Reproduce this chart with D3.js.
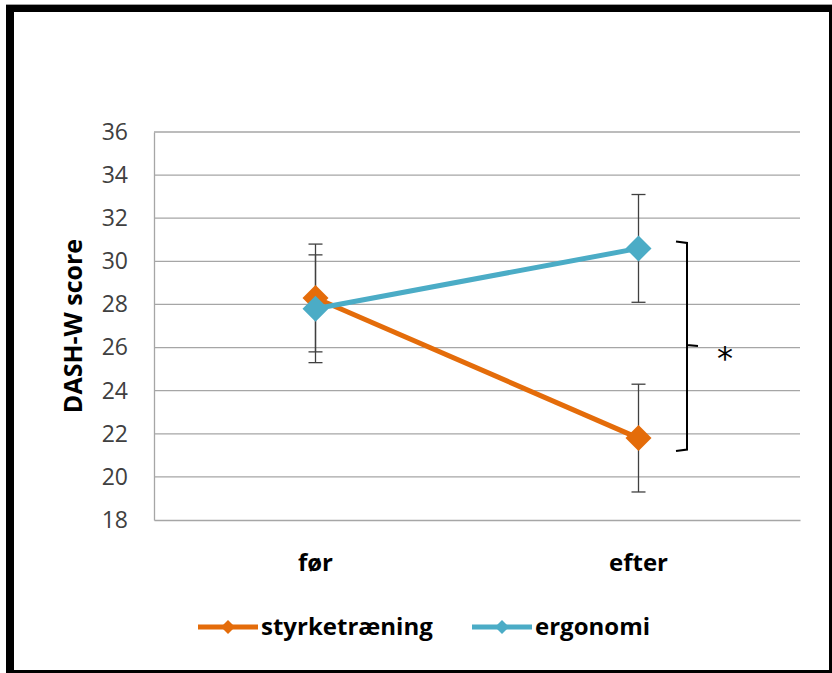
<!DOCTYPE html>
<html>
<head>
<meta charset="utf-8">
<script src="https://cdn.jsdelivr.net/npm/d3@7"></script>
<style>
  html, body { margin: 0; padding: 0; background: #fff; }
  svg { display: block; }
</style>
</head>
<body>
<svg id="chart" width="832" height="673"></svg>
<script>
// Time points and group labels
const categories = ["før", "efter"];
const seriesNames = ["styrketræning", "ergonomi"];
// Mean DASH-W score per time point
const styrketraening = [28.3, 21.8];
const ergonomi = [27.8, 30.6];
// Error bar half-widths (±)
const styrketraeningErr = [2.5, 2.5];
const ergonomiErr = [2.5, 2.5];
// Y axis ticks
const yTicks = [18, 20, 22, 24, 26, 28, 30, 32, 34, 36];

const colors = { "styrketræning": "#E46C0A", "ergonomi": "#4BACC6" };
const font = "'Open Sans', sans-serif";

const series = [
  { name: seriesNames[0], values: styrketraening, err: styrketraeningErr },
  { name: seriesNames[1], values: ergonomi, err: ergonomiErr }
];

const svg = d3.select("#chart");

// Outer frame
svg.append("line").attr("x1", 6).attr("x2", 832).attr("y1", 4.5).attr("y2", 4.5)
  .attr("stroke", "#a0a0a0").attr("stroke-width", 1);
svg.append("rect").attr("x", 6).attr("y", 5).attr("width", 826).attr("height", 7).attr("fill", "#000");
svg.append("rect").attr("x", 6).attr("y", 5).attr("width", 8).attr("height", 668).attr("fill", "#000");
svg.append("rect").attr("x", 829).attr("y", 5).attr("width", 3).attr("height", 668).attr("fill", "#000");
svg.append("rect").attr("x", 6).attr("y", 670).attr("width", 826).attr("height", 3).attr("fill", "#000");

const plot = { left: 154, right: 800, top: 132, bottom: 520 };

const x = d3.scaleBand().domain(categories).range([plot.left, plot.right]);
const y = d3.scaleLinear().domain([18, 36]).range([plot.bottom, plot.top]);
const cx = c => x(c) + x.bandwidth() / 2;

// Gridlines
svg.append("g").selectAll("line").data(yTicks.filter(t => t > 18)).join("line")
  .attr("x1", plot.left).attr("x2", plot.right)
  .attr("y1", d => y(d)).attr("y2", d => y(d))
  .attr("stroke", "#a6a6a6").attr("stroke-width", 1.3);

// Y axis
const yAxis = d3.axisLeft(y).tickValues(yTicks).tickSize(0).tickPadding(26);
const yg = svg.append("g").attr("transform", `translate(${plot.left},0)`).call(yAxis);
yg.select(".domain").attr("stroke", "#a6a6a6").attr("stroke-width", 1.3);
yg.selectAll("text").attr("font-family", font).attr("font-size", 23).attr("fill", "#404040");

// X axis
const xAxis = d3.axisBottom(x).tickSize(0).tickPadding(34);
const xg = svg.append("g").attr("transform", `translate(0,${plot.bottom})`).call(xAxis);
xg.select(".domain").attr("stroke", "#a6a6a6").attr("stroke-width", 1.3);
xg.selectAll("text").attr("font-family", font).attr("font-size", 24)
  .attr("font-weight", "bold").attr("fill", "#000");

// Y axis title
svg.append("text")
  .attr("transform", `translate(82,326) rotate(-90)`)
  .attr("text-anchor", "middle")
  .attr("font-family", font).attr("font-size", 25).attr("font-weight", "bold")
  .attr("fill", "#000").text("DASH-W score");

// Error bars
const capW = 7;
series.forEach(s => {
  const g = svg.append("g").attr("stroke", "#404040").attr("stroke-width", 1.3);
  categories.forEach((c, i) => {
    const hi = y(s.values[i] + s.err[i]);
    const lo = y(s.values[i] - s.err[i]);
    g.append("line").attr("x1", cx(c)).attr("x2", cx(c)).attr("y1", hi).attr("y2", lo);
    g.append("line").attr("x1", cx(c) - capW).attr("x2", cx(c) + capW).attr("y1", hi).attr("y2", hi);
    g.append("line").attr("x1", cx(c) - capW).attr("x2", cx(c) + capW).attr("y1", lo).attr("y2", lo);
  });
});

// Lines and diamond markers
const diamond = r => `M0,${-r}L${r},0L0,${r}L${-r},0Z`;
const line = d3.line().x((d, i) => cx(categories[i])).y(d => y(d));
series.forEach(s => {
  svg.append("path").datum(s.values).attr("d", line)
    .attr("fill", "none").attr("stroke", colors[s.name]).attr("stroke-width", 5);
  svg.append("g").selectAll("path").data(s.values).join("path")
    .attr("transform", (d, i) => `translate(${cx(categories[i])},${y(d)})`)
    .attr("d", diamond(13))
    .attr("fill", colors[s.name]);
});

// Significance bracket between groups at "efter"
const bx = 687;
const yTop = y(ergonomi[1]) - 7;
const yBot = y(styrketraening[1]) + 13;
const yMid = 346;
svg.append("path")
  .attr("d", `M${bx - 11},${yTop}L${bx},${yTop + 1.5}L${bx},${yMid - 1}L${bx + 11},${yMid}M${bx},${yMid - 1}L${bx},${yBot - 1.5}L${bx - 11},${yBot}`)
  .attr("fill", "none").attr("stroke", "#000").attr("stroke-width", 2);
svg.append("text").attr("x", 725).attr("y", 369).attr("text-anchor", "middle")
  .attr("font-family", "'DejaVu Sans', sans-serif").attr("font-size", 32).attr("fill", "#000").text("*");

// Legend
const legend = [
  { name: seriesNames[0], x: 198 },
  { name: seriesNames[1], x: 472 }
];
const ly = 627;
legend.forEach(l => {
  svg.append("line").attr("x1", l.x).attr("x2", l.x + 60).attr("y1", ly).attr("y2", ly)
    .attr("stroke", colors[l.name]).attr("stroke-width", 5);
  svg.append("path").attr("transform", `translate(${l.x + 30},${ly})`)
    .attr("d", diamond(7)).attr("fill", colors[l.name]);
  svg.append("text").attr("x", l.x + 63).attr("y", ly + 8)
    .attr("font-family", font).attr("font-size", 24).attr("font-weight", "bold")
    .attr("fill", "#000").text(l.name);
});
</script>
</body>
</html>
